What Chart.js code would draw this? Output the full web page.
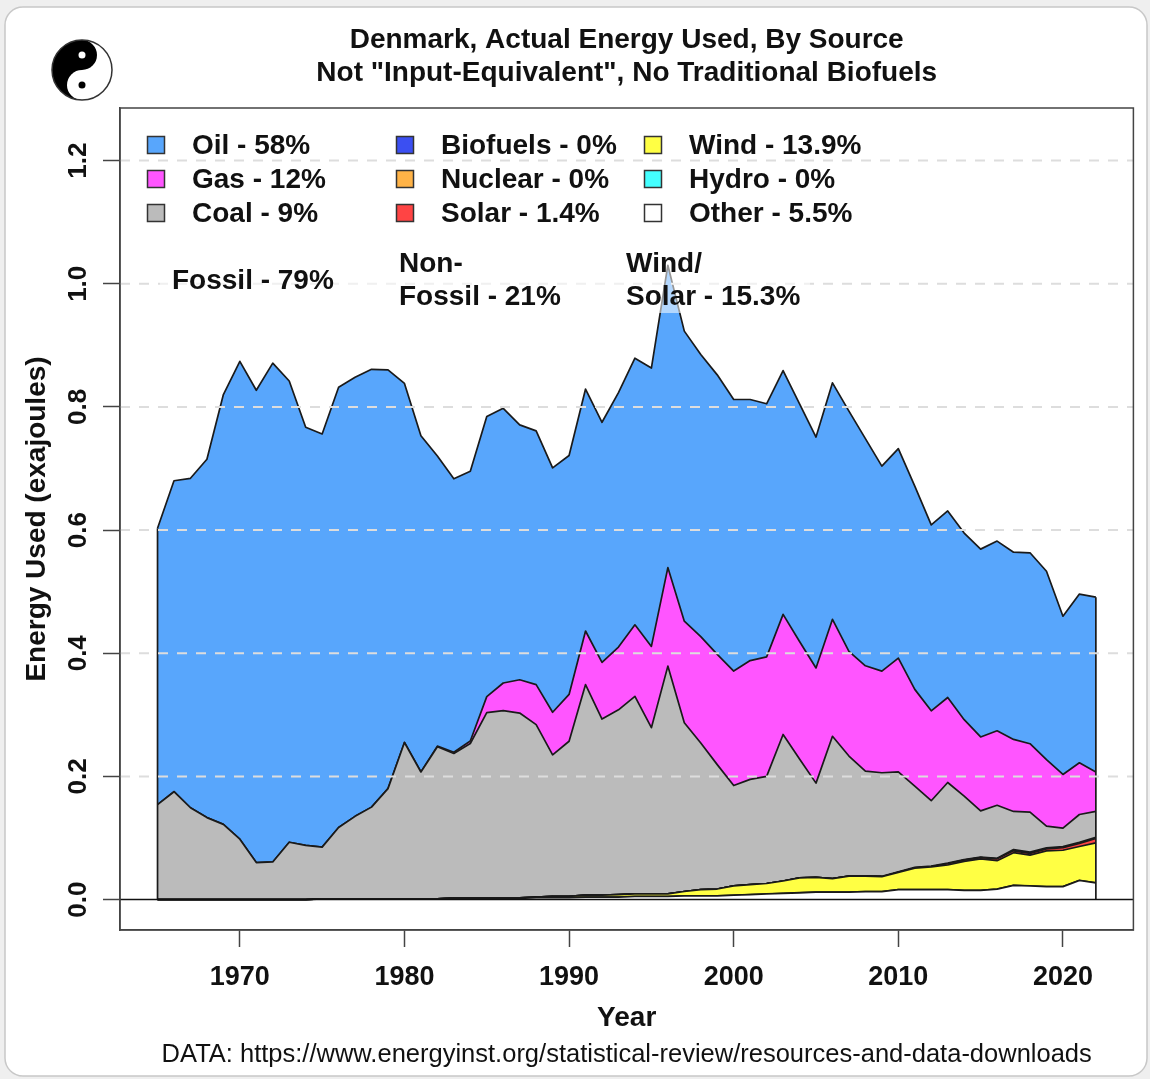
<!DOCTYPE html>
<html>
<head>
<meta charset="utf-8">
<script src="https://cdn.jsdelivr.net/npm/chart.js@4.4.1/dist/chart.umd.min.js"></script>
<style>
html,body{margin:0;padding:0;background:#fff;}
#wrap{width:1150px;height:1079px;position:relative;}
canvas{display:block;}
</style>
</head>
<body>
<div id="wrap"><canvas id="c" width="1150" height="1079"></canvas></div>
<script>
// ---------------- DATA (exajoules) ----------------
const years = [1965,1966,1967,1968,1969,1970,1971,1972,1973,1974,1975,1976,1977,1978,1979,
  1980,1981,1982,1983,1984,1985,1986,1987,1988,1989,1990,1991,1992,1993,1994,1995,1996,1997,1998,1999,
  2000,2001,2002,2003,2004,2005,2006,2007,2008,2009,2010,2011,2012,2013,2014,2015,2016,2017,2018,2019,
  2020,2021,2022];

const oil = [0.449,0.505,0.535,0.582,0.698,0.776,0.767,0.810,0.749,0.679,0.671,0.715,0.713,0.711,0.680,
  0.583,0.546,0.471,0.444,0.438,0.455,0.446,0.414,0.412,0.397,0.388,0.393,0.390,0.413,0.433,0.452,0.491,0.471,0.458,0.454,
  0.441,0.424,0.411,0.396,0.386,0.375,0.384,0.390,0.369,0.333,0.340,0.330,0.302,0.303,0.303,0.305,0.308,0.304,0.310,0.306,
  0.257,0.274,0.284];

const gas = [0,0,0,0,0,0,0,0,0,0,0,0,0,0,0,
  0,0,0.001,0.002,0.004,0.026,0.045,0.054,0.065,0.069,0.076,0.087,0.092,0.102,0.116,0.132,0.160,0.165,0.173,0.179,
  0.186,0.193,0.194,0.195,0.191,0.187,0.190,0.170,0.171,0.165,0.185,0.157,0.146,0.138,0.124,0.120,0.121,0.117,0.111,0.108,
  0.087,0.084,0.064];

const coal = [0.154,0.175,0.149,0.133,0.122,0.098,0.060,0.061,0.093,0.088,0.084,0.116,0.134,0.149,0.179,
  0.254,0.206,0.247,0.235,0.251,0.301,0.304,0.300,0.280,0.230,0.252,0.342,0.286,0.300,0.321,0.270,0.370,0.274,0.238,0.202,
  0.163,0.171,0.174,0.238,0.193,0.153,0.231,0.195,0.170,0.168,0.162,0.132,0.106,0.131,0.103,0.075,0.086,0.062,0.065,0.035,
  0.030,0.045,0.042];

const biofuels = [0,0,0,0,0,0,0,0,0,0,0,0,0,0,0,
  0,0,0,0,0,0,0,0,0,0,0,0,0,0,0,0,0,0,0,0,
  0,0,0,0,0,0,0,0,0.0005,0.0008,0.001,0.001,0.001,0.001,0.001,0.001,0.001,0.002,0.002,0.002,
  0.002,0.002,0.002];

const nuclear = [0,0,0,0,0,0,0,0,0,0,0,0,0,0,0,
  0,0,0,0,0,0,0,0,0,0,0,0,0,0,0,0,0,0,0,0,
  0,0,0,0,0,0,0,0,0,0,0,0,0,0,0,0,0,0,0,0,
  0,0,0];

const solar = [0,0,0,0,0,0,0,0,0,0,0,0,0,0,0,
  0,0,0,0,0,0,0,0,0,0,0,0,0,0,0,0,0,0,0,0,
  0,0,0,0,0,0,0,0,0,0,0.0001,0.0002,0.0004,0.002,0.002,0.002,0.003,0.003,0.003,0.003,
  0.004,0.005,0.007];

const wind = [0,0,0,0,0,0,0,0,0,0,0,0,0,0,0,
  0,0.0001,0.0001,0.0002,0.0003,0.0004,0.0006,0.0008,0.001,0.002,0.002,0.003,0.003,0.004,0.004,0.004,0.004,0.007,0.010,0.011,
  0.015,0.016,0.017,0.020,0.024,0.024,0.022,0.026,0.025,0.024,0.028,0.035,0.037,0.040,0.047,0.051,0.046,0.053,0.050,0.058,
  0.059,0.055,0.065];

const hydro = [0.0001,0.0001,0.0001,0.0001,0.0001,0.0001,0.0001,0.0001,0.0001,0.0001,0.0001,0.0001,0.0001,0.0001,0.0001,
  0.0001,0.0001,0.0001,0.0001,0.0001,0.0001,0.0001,0.0001,0.0001,0.0001,0.0001,0.0001,0.0001,0.0001,0.0001,0.0001,0.0001,0.0001,0.0001,0.0001,
  0.0001,0.0001,0.0001,0.0001,0.0001,0.0001,0.0001,0.0001,0.0001,0.0001,0.0001,0.0001,0.0001,0.0001,0.0001,0.0001,0.0001,0.0001,0.0001,0.0001,
  0.0001,0.0001,0.0001];

const other = [0,0,0,0,0,0,0,0,0,0,0.001,0.001,0.001,0.001,0.001,
  0.001,0.001,0.001,0.002,0.002,0.002,0.002,0.002,0.003,0.003,0.003,0.004,0.004,0.004,0.005,0.005,0.005,0.006,0.006,0.006,
  0.007,0.008,0.009,0.010,0.011,0.012,0.012,0.012,0.013,0.013,0.016,0.016,0.016,0.016,0.015,0.015,0.017,0.023,0.022,0.021,
  0.021,0.031,0.027];

const xTicks = [1970,1980,1990,2000,2010,2020];
const yTicks = [0,0.2,0.4,0.6,0.8,1.0,1.2];
const yTickLabels = ['0.0','0.2','0.4','0.6','0.8','1.0','1.2'];
const yLimTop = 1.236;

const legendLabels = {
  Oil:'Oil - 58%', Gas:'Gas - 12%', Coal:'Coal - 9%',
  Biofuels:'Biofuels - 0%', Nuclear:'Nuclear - 0%', Solar:'Solar - 1.4%',
  Wind:'Wind - 13.9%', Hydro:'Hydro - 0%', Other:'Other - 5.5%'
};
const legendColumns = [['Oil','Gas','Coal'],['Biofuels','Nuclear','Solar'],['Wind','Hydro','Other']];

const titleLines = ['Denmark, Actual Energy Used, By Source','Not "Input-Equivalent", No Traditional Biofuels'];
const xTitle = 'Year';
const yTitle = 'Energy Used (exajoules)';
const sourceText = 'DATA: https://www.energyinst.org/statistical-review/resources-and-data-downloads';
const notes = [['Fossil - 79%'],['Non-','Fossil - 21%'],['Wind/','Solar - 15.3%']];

// ---------------- STYLE ----------------
const FONT = '"Liberation Sans", Arial, Helvetica, sans-serif';
const colors = {
  Oil:'#58A6FC', Gas:'#FF55FF', Coal:'#BBBBBB', Biofuels:'#3B4FF2', Nuclear:'#FFB347',
  Solar:'#FF4444', Wind:'#FFFF44', Hydro:'#44FFFF', Other:'#FFFFFF'
};
const seriesByName = {Other:other, Hydro:hydro, Wind:wind, Solar:solar, Nuclear:nuclear,
  Biofuels:biofuels, Coal:coal, Gas:gas, Oil:oil};
const stackOrder = ['Other','Hydro','Wind','Solar','Nuclear','Biofuels','Coal','Gas','Oil'];

const datasets = stackOrder.map((name, i) => ({
  label: name,
  data: years.map((yr, j) => ({x: yr, y: seriesByName[name][j]})),
  fill: i === 0 ? 'origin' : '-1',
  backgroundColor: colors[name],
  borderColor: '#1a1a1a',
  borderWidth: 1.7,
  pointRadius: 0,
  pointHoverRadius: 0,
  tension: 0
}));

const yPad = 0.04 * yLimTop;
const xPad = 0.04 * (years[years.length - 1] - years[0]);

function totalAt(j) {
  return stackOrder.reduce((s, n) => s + seriesByName[n][j], 0);
}

const deco = {
  id: 'deco',
  beforeDraw(chart) {
    const ctx = chart.ctx;
    ctx.save();
    ctx.fillStyle = '#efefef';
    ctx.fillRect(0, 0, chart.width, chart.height);
    const x0 = 5, y0 = 7, x1 = 1147, y1 = 1076, r = 18;
    ctx.beginPath();
    ctx.moveTo(x0 + r, y0);
    ctx.lineTo(x1 - r, y0);
    ctx.arcTo(x1, y0, x1, y0 + r, r);
    ctx.lineTo(x1, y1 - r);
    ctx.arcTo(x1, y1, x1 - r, y1, r);
    ctx.lineTo(x0 + r, y1);
    ctx.arcTo(x0, y1, x0, y1 - r, r);
    ctx.lineTo(x0, y0 + r);
    ctx.arcTo(x0, y0, x0 + r, y0, r);
    ctx.closePath();
    ctx.fillStyle = '#ffffff';
    ctx.fill();
    ctx.strokeStyle = '#c8c8c8';
    ctx.lineWidth = 1.5;
    ctx.stroke();
    ctx.restore();
  },
  afterDatasetsDraw(chart) {
    const {ctx, chartArea: a, scales: {x, y}} = chart;
    ctx.save();
    const y0 = y.getPixelForValue(0);
    // polygon end edges
    ctx.strokeStyle = '#1a1a1a';
    ctx.lineWidth = 1.7;
    [0, years.length - 1].forEach(j => {
      const px = x.getPixelForValue(years[j]);
      ctx.beginPath();
      ctx.moveTo(px, y0);
      ctx.lineTo(px, y.getPixelForValue(totalAt(j)));
      ctx.stroke();
    });
    // dashed grid
    ctx.setLineDash([10, 9]);
    ctx.strokeStyle = '#dddddd';
    ctx.lineWidth = 2;
    yTicks.forEach(v => {
      if (v === 0) return;
      const py = y.getPixelForValue(v);
      ctx.beginPath();
      ctx.moveTo(a.left, py);
      ctx.lineTo(a.right, py);
      ctx.stroke();
    });
    ctx.setLineDash([]);
    // zero line
    ctx.strokeStyle = '#111';
    ctx.lineWidth = 1.5;
    ctx.beginPath();
    ctx.moveTo(a.left, y0);
    ctx.lineTo(a.right, y0);
    ctx.stroke();
    // translucent box behind the notes
    ctx.fillStyle = 'rgba(255,255,255,0.55)';
    ctx.fillRect(160, 247, 650, 66);
    // notes
    ctx.fillStyle = '#111';
    ctx.font = 'bold 28px ' + FONT;
    ctx.textAlign = 'left';
    ctx.textBaseline = 'middle';
    ctx.fillText(notes[0][0], 172, 281);
    ctx.fillText(notes[1][0], 399, 264);
    ctx.fillText(notes[1][1], 399, 297);
    ctx.fillText(notes[2][0], 626, 264);
    ctx.fillText(notes[2][1], 626, 297);
    // legend
    const colX = [156, 405, 653];
    const rowY = [145, 179, 213];
    legendColumns.forEach((col, ci) => {
      col.forEach((name, ri) => {
        const cx = colX[ci], cy = rowY[ri];
        ctx.fillStyle = colors[name];
        ctx.fillRect(cx - 8.5, cy - 8.5, 17, 17);
        ctx.strokeStyle = '#333';
        ctx.lineWidth = 1.5;
        ctx.strokeRect(cx - 8.5, cy - 8.5, 17, 17);
        ctx.fillStyle = '#111';
        ctx.fillText(legendLabels[name], cx + 36, cy + 1);
      });
    });
    // frame
    ctx.strokeStyle = '#444';
    ctx.lineWidth = 1.5;
    ctx.strokeRect(a.left, a.top, a.right - a.left, a.bottom - a.top);
    ctx.restore();
  },
  afterDraw(chart) {
    const {ctx, chartArea: a} = chart;
    const cx = (a.left + a.right) / 2;
    ctx.save();
    ctx.fillStyle = '#111';
    ctx.textAlign = 'center';
    ctx.textBaseline = 'middle';
    ctx.font = 'bold 28px ' + FONT;
    ctx.fillText(titleLines[0], cx, 40);
    ctx.fillText(titleLines[1], cx, 73);
    ctx.fillText(xTitle, cx, 1018);
    ctx.save();
    ctx.translate(37, (a.top + a.bottom) / 2);
    ctx.rotate(-Math.PI / 2);
    ctx.fillText(yTitle, 0, 0);
    ctx.restore();
    ctx.font = '25.5px ' + FONT;
    ctx.fillText(sourceText, cx, 1055);
    // logo (yin-yang)
    const lx = 82, ly = 70, r = 30;
    ctx.beginPath(); ctx.arc(lx, ly, r, 0, Math.PI * 2); ctx.fillStyle = '#fff'; ctx.fill();
    ctx.beginPath(); ctx.arc(lx, ly, r, Math.PI / 2, Math.PI * 1.5); ctx.fillStyle = '#000'; ctx.fill();
    ctx.beginPath(); ctx.arc(lx, ly - r / 2, r / 2, 0, Math.PI * 2); ctx.fill();
    ctx.beginPath(); ctx.arc(lx, ly + r / 2, r / 2, 0, Math.PI * 2); ctx.fillStyle = '#fff'; ctx.fill();
    ctx.beginPath(); ctx.arc(lx, ly - r / 2, 3.5, 0, Math.PI * 2); ctx.fillStyle = '#fff'; ctx.fill();
    ctx.beginPath(); ctx.arc(lx, ly + r / 2, 3.5, 0, Math.PI * 2); ctx.fillStyle = '#000'; ctx.fill();
    ctx.beginPath(); ctx.arc(lx, ly, r, 0, Math.PI * 2); ctx.strokeStyle = '#333'; ctx.lineWidth = 1.5; ctx.stroke();
    ctx.restore();
  }
};

new Chart(document.getElementById('c'), {
  type: 'line',
  data: {datasets},
  plugins: [deco],
  options: {
    responsive: false,
    animation: false,
    devicePixelRatio: 1,
    layout: {padding: {left: 0, right: 16.6, top: 108, bottom: 89}},
    plugins: {legend: {display: false}, tooltip: {enabled: false}, title: {display: false}},
    elements: {line: {borderJoinStyle: 'round'}},
    scales: {
      x: {
        type: 'linear',
        min: years[0] - xPad,
        max: years[years.length - 1] + xPad,
        afterBuildTicks: s => { s.ticks = xTicks.map(v => ({value: v})); },
        afterFit: s => { s.height = 60; },
        ticks: {
          font: {family: FONT, size: 27, weight: 'bold'},
          color: '#111',
          padding: 14,
          maxRotation: 0,
          callback: v => String(v)
        },
        grid: {drawOnChartArea: false, drawTicks: true, tickLength: 17, tickColor: '#444', tickWidth: 1.5},
        border: {display: true, color: '#444', width: 1.5}
      },
      y: {
        type: 'linear',
        stacked: true,
        min: -yPad,
        max: yLimTop + yPad,
        afterBuildTicks: s => { s.ticks = yTicks.map(v => ({value: v})); },
        afterFit: s => { s.width = 120; },
        ticks: {
          font: {family: FONT, size: 26, weight: 'bold'},
          color: '#111',
          padding: 6,
          minRotation: 90,
          maxRotation: 90,
          crossAlign: 'center',
          callback: (v, i) => yTickLabels[i]
        },
        grid: {drawOnChartArea: false, drawTicks: true, tickLength: 17, tickColor: '#444', tickWidth: 1.5},
        border: {display: true, color: '#444', width: 1.5}
      }
    }
  }
});
</script>
</body>
</html>
